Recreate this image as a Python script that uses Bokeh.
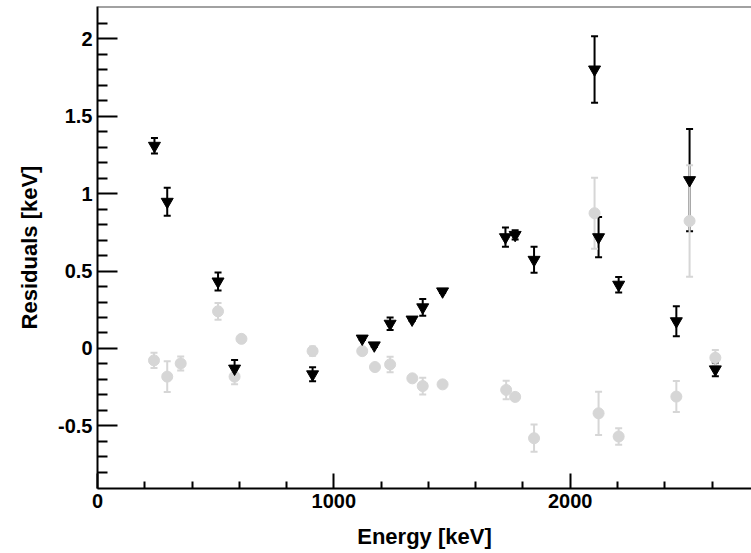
from bokeh.plotting import figure
from bokeh.models import ColumnDataSource, Whisker, TeeHead, FixedTicker, Span
from bokeh.embed import file_html
from bokeh.resources import INLINE

# ---- data ----
energy_black = [241, 295, 510, 580, 910, 1120, 1171, 1238, 1331, 1376, 1460,
                1726, 1767, 1847, 2103, 2120, 2205, 2449, 2505, 2614]
resid_black = [1.31, 0.948, 0.433, -0.13, -0.167, 0.064, 0.02, 0.16, 0.187, 0.266, 0.369,
               0.719, 0.734, 0.573, 1.803, 0.719, 0.412, 0.176, 1.088, -0.135]
err_black = [0.05, 0.09, 0.058, 0.055, 0.045, 0.01, 0.01, 0.04, 0.01, 0.054, 0.01,
             0.062, 0.03, 0.084, 0.215, 0.13, 0.05, 0.097, 0.33, 0.045]

energy_grey = [239, 295, 352, 510, 580, 609, 910, 1120, 1174, 1238, 1332, 1376, 1460,
               1729, 1767, 1847, 2103, 2120, 2205, 2449, 2505, 2614]
resid_grey = [-0.077, -0.182, -0.097, 0.24, -0.182, 0.062, -0.017, -0.017, -0.12, -0.103,
              -0.193, -0.243, -0.232, -0.268, -0.313, -0.58, 0.874, -0.419, -0.569,
              -0.311, 0.824, -0.06]
err_grey = [0.05, 0.1, 0.045, 0.054, 0.05, 0.02, 0.03, 0.01, 0.01, 0.05, 0.01, 0.054,
            0.01, 0.06, 0.01, 0.088, 0.23, 0.14, 0.054, 0.1, 0.36, 0.05]

x_major = [0, 1000, 2000]
x_minor = [200, 400, 600, 800, 1200, 1400, 1600, 1800, 2200, 2400, 2600]
y_major = [-0.5, 0, 0.5, 1, 1.5, 2]
y_minor = [-0.8, -0.7, -0.6, -0.4, -0.3, -0.2, -0.1, 0.1, 0.2, 0.3, 0.4,
           0.6, 0.7, 0.8, 0.9, 1.1, 1.2, 1.3, 1.4, 1.6, 1.7, 1.8, 1.9, 2.1]
y_labels = {-0.5: "-0.5", 0: "0", 0.5: "0.5", 1: "1", 1.5: "1.5", 2: "2"}
x_labels = {0: "0", 1000: "1000", 2000: "2000"}

BLACK = "#000000"
GREY = "#d6d6d6"
FONT = "Liberation Sans"

src_b = ColumnDataSource(dict(
    x=energy_black, y=resid_black,
    lo=[r - e for r, e in zip(resid_black, err_black)],
    hi=[r + e for r, e in zip(resid_black, err_black)]))
src_g = ColumnDataSource(dict(
    x=energy_grey, y=resid_grey,
    lo=[r - e for r, e in zip(resid_grey, err_grey)],
    hi=[r + e for r, e in zip(resid_grey, err_grey)]))

p = figure(width=751, height=553, output_backend="svg", toolbar_location=None,
           x_range=(0, 2767), y_range=(-0.905, 2.21),
           min_border_left=97, min_border_right=0, min_border_top=6, min_border_bottom=65)
p.outline_line_color = None
p.grid.visible = False
p.background_fill_color = "white"
p.border_fill_color = "white"

# error bars
wb = Whisker(source=src_b, base="x", lower="lo", upper="hi", dimension="height",
             line_color=BLACK, line_width=2,
             lower_head=TeeHead(size=7, line_color=BLACK, line_width=2),
             upper_head=TeeHead(size=7, line_color=BLACK, line_width=2))
wg = Whisker(source=src_g, base="x", lower="lo", upper="hi", dimension="height",
             line_color=GREY, line_width=2,
             lower_head=TeeHead(size=7, line_color=GREY, line_width=2),
             upper_head=TeeHead(size=7, line_color=GREY, line_width=2))
p.add_layout(wb)
p.add_layout(wg)

p.scatter("x", "y", source=src_g, marker="circle", size=11,
          fill_color=GREY, line_color=GREY)
p.scatter("x", "y", source=src_b, marker="inverted_triangle", size=12,
          fill_color=BLACK, line_color=BLACK)

# top frame line
p.add_layout(Span(location=2.21, dimension="width", line_color="#444444", line_width=2))

# axes
for ax in (p.xaxis[0], p.yaxis[0]):
    ax.axis_line_color = BLACK
    ax.axis_line_width = 2
    ax.major_tick_line_color = BLACK
    ax.minor_tick_line_color = BLACK
    ax.major_tick_line_width = 2
    ax.minor_tick_line_width = 2
    ax.major_tick_out = 0
    ax.minor_tick_out = 0
    ax.major_label_text_font = FONT
    ax.major_label_text_font_style = "bold"
    ax.major_label_text_font_size = "20px"
    ax.major_label_text_color = BLACK
    ax.axis_label_text_font = FONT
    ax.axis_label_text_font_style = "bold"
    ax.axis_label_text_font_size = "22px"
    ax.axis_label_text_color = BLACK
    ax.major_label_standoff = 5

p.xaxis.ticker = FixedTicker(ticks=x_major, minor_ticks=x_minor)
p.yaxis.ticker = FixedTicker(ticks=y_major, minor_ticks=y_minor)
p.xaxis.major_label_overrides = x_labels
p.yaxis.major_label_overrides = y_labels
p.xaxis.major_tick_in = 15
p.xaxis.minor_tick_in = 7
p.yaxis.major_tick_in = 20
p.yaxis.minor_tick_in = 10
p.xaxis.axis_label = "Energy [keV]"
p.yaxis.axis_label = "Residuals [keV]"
p.xaxis.axis_label_standoff = 13
p.yaxis.axis_label_standoff = 13

open("out.html", "w").write(file_html(p, INLINE))
